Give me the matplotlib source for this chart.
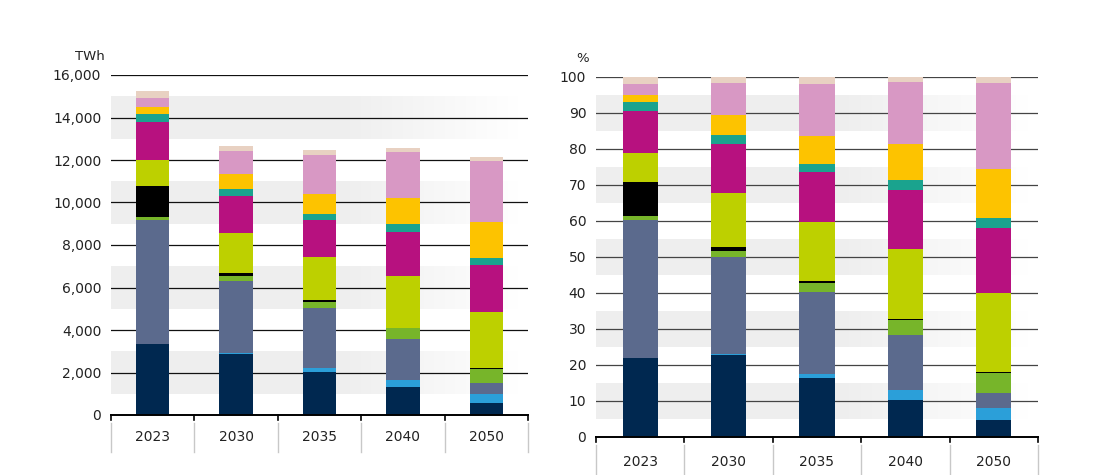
import numpy as np
import matplotlib
matplotlib.use("Agg")
import matplotlib.pyplot as plt
from matplotlib.lines import Line2D

years = ["2023", "2030", "2035", "2040", "2050"]

# TWh per source (bottom to top of the stack)
navy       = [3330, 2880, 2040, 1300, 580]
light_blue = [30, 50, 150, 330, 400]
slate      = [5820, 3390, 2830, 1930, 520]
green      = [150, 220, 300, 520, 660]
black      = [1460, 150, 90, 30, 30]
yellowgrn  = [1210, 1870, 2045, 2445, 2680]
magenta    = [1800, 1750, 1710, 2070, 2200]
teal       = [360, 315, 295, 345, 313]
yellow     = [320, 705, 955, 1255, 1677]
pink       = [450, 1100, 1805, 2165, 2900]
beige      = [300, 220, 235, 175, 190]

series = [navy, light_blue, slate, green, black, yellowgrn, magenta, teal, yellow, pink, beige]
colors = ["#002850", "#2b9fd9", "#5b6a8d", "#77b52a", "#000000", "#bdd000",
          "#b7117f", "#1aa38e", "#fdc300", "#d898c4", "#e8d1c2"]

left_ticks = [0, 2000, 4000, 6000, 8000, 10000, 12000, 14000, 16000]
right_ticks = [0, 10, 20, 30, 40, 50, 60, 70, 80, 90, 100]

fig = plt.figure(figsize=(11.11, 4.75), dpi=100)
plt.rcParams['font.family'] = ['DejaVu Sans']

axL = fig.add_axes([111/1111, 60/475, 417/1111, 340/475])
axR = fig.add_axes([596/1111, 38/475, 442/1111, 360/475])

data = np.array(series, dtype=float)
totals = data.sum(axis=0)
pct = data / totals * 100


def band_gradient(ax, y0, y1):
    grad = np.ones((1, 256, 4))
    grad[..., :3] = 0.935
    x = np.linspace(0, 1, 256)
    a = np.where(x < 0.55, 1.0, np.clip(1 - (x - 0.55) / 0.43, 0, 1))
    grad[0, :, 3] = a
    ax.imshow(grad, extent=[-0.5, 4.5, y0, y1], aspect='auto', zorder=0,
              interpolation='bilinear')


def draw(ax, vals, ticks, ymax, fmt, bands, gridcol, below_len, lab_off):
    ax.set_xlim(-0.5, 4.5)
    for b0, b1 in bands:
        band_gradient(ax, b0, b1)
    for t in ticks[1:]:
        ax.axhline(t, color=gridcol, lw=0.9, zorder=1)
    x = np.arange(len(years))
    bottom = np.zeros(len(years))
    for v, c in zip(vals, colors):
        ax.bar(x, v, width=0.4, bottom=bottom, color=c, zorder=2, linewidth=0)
        bottom += v
    ax.set_ylim(0, ymax)
    ax.set_yticks(ticks)
    ax.set_yticklabels([fmt(t) for t in ticks], fontsize=10, color="#222222")
    ax.tick_params(axis='y', length=0, pad=7)
    ax.set_xticks([])
    for s in ['left', 'right', 'top']:
        ax.spines[s].set_visible(False)
    ax.spines['bottom'].set_color('black')
    ax.spines['bottom'].set_linewidth(1.4)
    ax.spines['bottom'].set_zorder(5)
    h = ax.get_position().height * 475
    for b in np.arange(-0.5, 5.0, 1.0):
        ax.add_line(Line2D([b, b], [0, -5 / h * ymax], color='black', lw=1.2,
                           clip_on=False, zorder=5))
        ax.add_line(Line2D([b, b], [-8 / h * ymax, -below_len / h * ymax],
                           color='#c8c8c8', lw=1.0, clip_on=False))
    for i, y in enumerate(years):
        ax.text(i, -lab_off / h * ymax, y, ha='center', va='center',
                fontsize=10, color='#222222')


draw(axL, data, left_ticks, 16000, lambda t: f"{t:,}",
     [(1000, 3000), (5000, 7000), (9000, 11000), (13000, 15000)],
     '#111111', 37, 22)
draw(axR, pct, right_ticks, 100, lambda t: f"{t}",
     [(5, 15), (25, 35), (45, 55), (65, 75), (85, 95)],
     '#444444', 40, 25)

fig.text(90/1111, 1 - 57/475, "TWh", ha='center', va='center', fontsize=9.5, color='#222222')
fig.text(583/1111, 1 - 58/475, "%", ha='center', va='center', fontsize=9.5, color='#222222')

fig.savefig("out.png", dpi=100)
